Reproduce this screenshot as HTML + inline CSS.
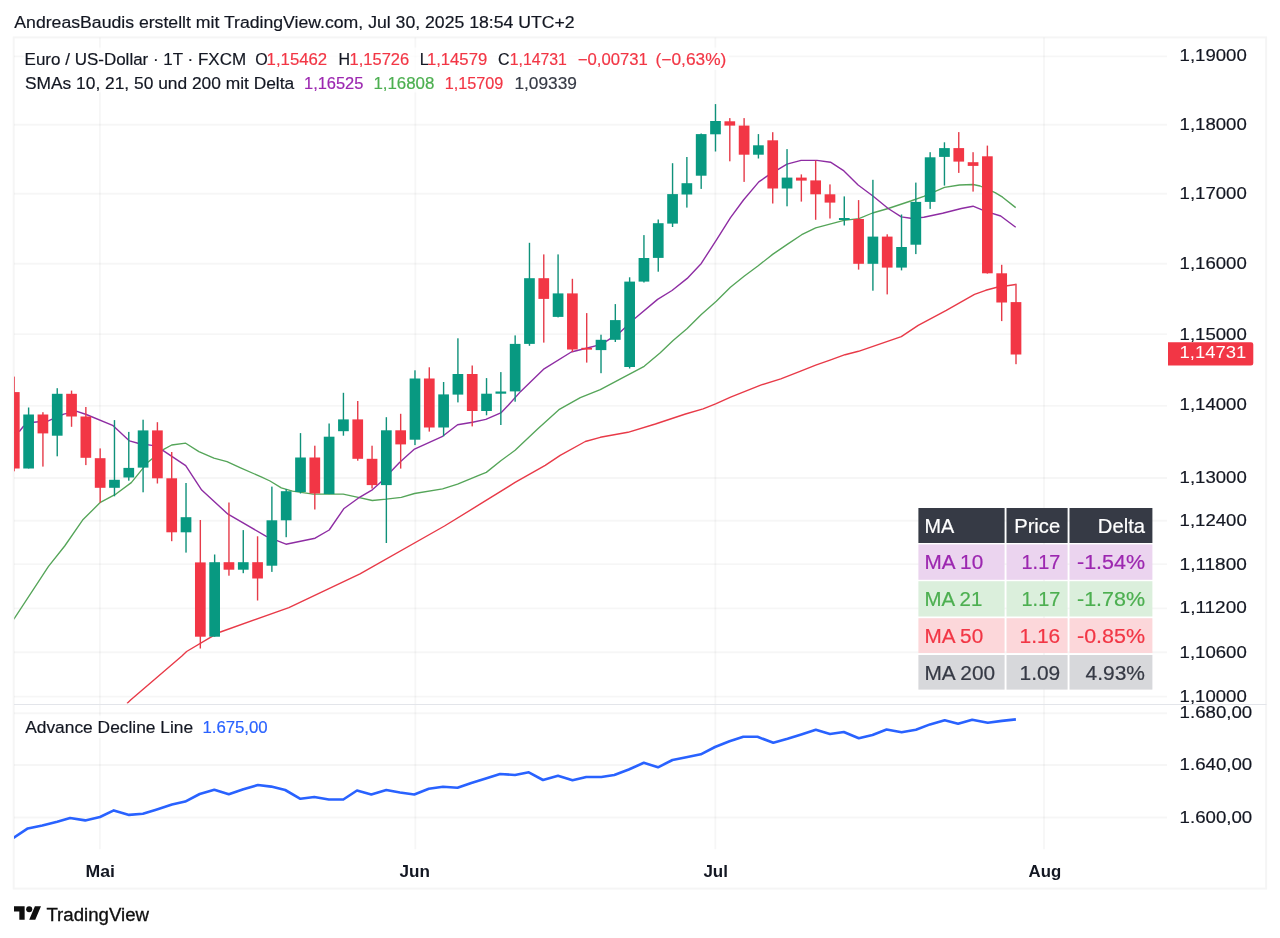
<!DOCTYPE html>
<html lang="de"><head><meta charset="utf-8"><title>EURUSD Chart</title>
<style>html,body{margin:0;padding:0;background:#fff}body{width:1280px;height:938px;overflow:hidden;position:relative;font-family:"Liberation Sans",sans-serif}svg{will-change:transform;position:absolute;left:0;top:0;display:block}svg text{font-family:"Liberation Sans",sans-serif}</style></head><body>
<svg width="1280" height="938" viewBox="0 0 1280 938">
<rect x="0" y="0" width="1280" height="938" fill="#ffffff"/>
<defs><clipPath id="cm"><rect x="14.2" y="37.5" width="1152" height="666"/></clipPath><clipPath id="cl"><rect x="14.0" y="705" width="1152" height="145"/></clipPath></defs>
<g stroke="#000000" stroke-opacity="0.036" stroke-width="1.9" fill="none"><line x1="14" y1="56.4" x2="1167" y2="56.4"/><line x1="14" y1="124.7" x2="1167" y2="124.7"/><line x1="14" y1="193.8" x2="1167" y2="193.8"/><line x1="14" y1="263.8" x2="1167" y2="263.8"/><line x1="14" y1="334.1" x2="1167" y2="334.1"/><line x1="14" y1="405.9" x2="1167" y2="405.9"/><line x1="14" y1="478.0" x2="1167" y2="478.0"/><line x1="14" y1="520.7" x2="1167" y2="520.7"/><line x1="14" y1="564.1" x2="1167" y2="564.1"/><line x1="14" y1="608.4" x2="1167" y2="608.4"/><line x1="14" y1="652.3" x2="1167" y2="652.3"/><line x1="14" y1="696.6" x2="1167" y2="696.6"/><line x1="14" y1="713.2" x2="1167" y2="713.2"/><line x1="14" y1="765" x2="1167" y2="765"/><line x1="14" y1="817.5" x2="1167" y2="817.5"/><line x1="99.9" y1="37.5" x2="99.9" y2="849.3"/><line x1="415.3" y1="37.5" x2="415.3" y2="849.3"/><line x1="715.3" y1="37.5" x2="715.3" y2="849.3"/><line x1="1044.0" y1="37.5" x2="1044.0" y2="849.3"/></g>
<rect x="13.7" y="37.4" width="1252.4" height="851.2" fill="none" stroke="#000000" stroke-opacity="0.04" stroke-width="2"/>
<line x1="14" y1="704.45" x2="1266.5" y2="704.45" stroke="#e3e5ea" stroke-width="1.1"/>
<g clip-path="url(#cm)">
<polyline points="127.0,703.5 130.6,700.0 181.9,656.0 186.6,651.5 210.0,637.6 220.4,632.0 288.9,607.6 360.0,573.8 444.5,526.0 480.0,504.2 515.1,482.4 545.2,465.3 560.2,455.3 585.3,441.5 600.3,437.3 627.9,432.3 655.4,424.0 685.5,414.0 703.1,408.9 715.6,403.9 730.6,397.2 760.7,385.1 780.8,378.9 800.0,371.4 815.7,365.1 830.0,360.1 845.0,354.7 858.5,351.3 901.3,336.6 918.2,325.4 946.3,310.4 974.5,294.4 985.7,290.3 997.0,287.3 1015.7,284.5" fill="none" stroke="#e83a48" stroke-width="1.4" stroke-linejoin="round" stroke-linecap="butt"/>
<polyline points="13.0,619.5 14.2,618.7 48.5,566.4 64.7,546.0 82.6,520.1 100.4,502.3 116.3,493.8 131.3,482.6 148.2,461.9 163.2,449.7 171.7,445.0 185.7,443.2 198.9,451.6 213.9,458.2 227.0,461.6 240.0,467.6 261.2,476.9 270.0,481.0 281.3,487.9 292.5,491.1 313.2,494.1 343.2,494.1 358.2,497.3 372.3,500.5 386.3,499.2 401.3,497.3 414.5,493.5 442.6,488.8 457.6,484.1 480.0,474.9 486.3,472.4 500.8,460.7 515.1,450.3 537.6,429.0 558.9,409.7 580.3,397.7 600.3,389.6 622.9,377.6 644.2,366.3 660.0,353.0 673.1,340.5 687.2,328.5 701.3,314.4 716.3,301.3 730.4,287.2 744.4,276.0 757.9,266.0 772.6,254.4 787.6,244.1 801.7,234.7 815.7,227.8 828.9,224.4 843.9,220.3 858.9,218.6 872.5,213.0 888.2,208.5 910.7,201.0 923.8,196.3 944.5,187.4 959.5,185.0 973.0,184.5 980.1,186.0 995.1,192.6 1002.6,197.2 1015.7,207.6" fill="none" stroke="#55a559" stroke-width="1.35" stroke-linejoin="round" stroke-linecap="butt"/>
<polyline points="13.0,433.0 19.7,431.0 23.5,426.3 33.8,422.2 48.8,420.7 63.8,414.1 76.9,411.3 86.3,414.5 112.6,425.3 129.5,440.9 138.8,443.5 152.0,445.4 163.2,450.7 185.7,465.7 201.7,490.1 228.0,514.2 266.3,536.3 286.0,544.2 315.1,538.2 329.2,530.0 343.7,508.8 358.2,498.2 372.3,489.8 380.7,482.3 399.5,462.6 414.5,449.1 442.6,436.3 457.6,424.7 472.6,422.2 485.8,419.4 500.8,412.9 508.5,405.0 520.7,391.4 544.1,368.8 571.3,352.0 586.3,348.2 601.4,344.4 620.1,332.3 635.1,318.2 657.6,299.4 672.0,290.5 687.2,278.4 701.3,263.4 716.8,239.3 730.5,217.7 743.5,200.0 758.8,181.9 768.2,175.4 787.0,164.1 801.1,160.4 817.0,160.4 830.5,162.2 843.2,170.3 858.1,185.0 873.2,196.3 888.2,208.5 901.3,216.9 910.7,218.3 923.8,217.3 942.6,213.2 961.3,208.5 973.0,206.2 985.7,211.3 1000.7,216.0 1015.7,227.3" fill="none" stroke="#8e2da3" stroke-width="1.4" stroke-linejoin="round" stroke-linecap="butt"/>
<rect x="13.60" y="376.6" width="1.4" height="94.7" fill="#e63b49"/>
<rect x="8.95" y="392.1" width="10.7" height="76.4" fill="#f23645"/>
<rect x="27.91" y="407.5" width="1.4" height="61.0" fill="#0f917a"/>
<rect x="23.26" y="414.5" width="10.7" height="54.0" fill="#089981"/>
<rect x="42.22" y="412.2" width="1.4" height="54.4" fill="#e63b49"/>
<rect x="37.57" y="414.5" width="10.7" height="18.9" fill="#f23645"/>
<rect x="56.53" y="388.2" width="1.4" height="68.1" fill="#0f917a"/>
<rect x="51.88" y="393.8" width="10.7" height="41.9" fill="#089981"/>
<rect x="70.84" y="390.6" width="1.4" height="36.2" fill="#e63b49"/>
<rect x="66.19" y="393.8" width="10.7" height="22.7" fill="#f23645"/>
<rect x="85.15" y="407.0" width="1.4" height="58.1" fill="#e63b49"/>
<rect x="80.50" y="416.5" width="10.7" height="41.3" fill="#f23645"/>
<rect x="99.46" y="448.4" width="1.4" height="54.2" fill="#e63b49"/>
<rect x="94.81" y="458.2" width="10.7" height="29.6" fill="#f23645"/>
<rect x="113.77" y="420.1" width="1.4" height="76.2" fill="#0f917a"/>
<rect x="109.12" y="479.8" width="10.7" height="8.0" fill="#089981"/>
<rect x="128.08" y="431.9" width="1.4" height="48.8" fill="#0f917a"/>
<rect x="123.43" y="467.9" width="10.7" height="9.6" fill="#089981"/>
<rect x="142.39" y="419.7" width="1.4" height="72.6" fill="#0f917a"/>
<rect x="137.74" y="430.4" width="10.7" height="37.2" fill="#089981"/>
<rect x="156.70" y="422.2" width="1.4" height="61.3" fill="#e63b49"/>
<rect x="152.05" y="430.4" width="10.7" height="47.9" fill="#f23645"/>
<rect x="171.01" y="452.0" width="1.4" height="89.2" fill="#e63b49"/>
<rect x="166.36" y="478.3" width="10.7" height="54.0" fill="#f23645"/>
<rect x="185.32" y="483.0" width="1.4" height="69.6" fill="#0f917a"/>
<rect x="180.67" y="517.2" width="10.7" height="15.1" fill="#089981"/>
<rect x="199.63" y="520.0" width="1.4" height="128.5" fill="#e63b49"/>
<rect x="194.98" y="562.4" width="10.7" height="74.3" fill="#f23645"/>
<rect x="213.94" y="554.5" width="1.4" height="82.2" fill="#0f917a"/>
<rect x="209.29" y="562.2" width="10.7" height="74.5" fill="#089981"/>
<rect x="228.25" y="502.5" width="1.4" height="73.2" fill="#e63b49"/>
<rect x="223.60" y="562.2" width="10.7" height="7.5" fill="#f23645"/>
<rect x="242.56" y="530.1" width="1.4" height="43.1" fill="#0f917a"/>
<rect x="237.91" y="562.2" width="10.7" height="7.5" fill="#089981"/>
<rect x="256.87" y="536.3" width="1.4" height="64.2" fill="#e63b49"/>
<rect x="252.22" y="562.2" width="10.7" height="16.3" fill="#f23645"/>
<rect x="271.18" y="486.6" width="1.4" height="85.3" fill="#0f917a"/>
<rect x="266.53" y="520.3" width="10.7" height="45.4" fill="#089981"/>
<rect x="285.49" y="489.0" width="1.4" height="48.2" fill="#0f917a"/>
<rect x="280.84" y="491.2" width="10.7" height="29.1" fill="#089981"/>
<rect x="299.80" y="433.1" width="1.4" height="60.4" fill="#0f917a"/>
<rect x="295.15" y="457.5" width="10.7" height="34.5" fill="#089981"/>
<rect x="314.11" y="445.7" width="1.4" height="63.8" fill="#e63b49"/>
<rect x="309.46" y="457.5" width="10.7" height="36.0" fill="#f23645"/>
<rect x="328.42" y="423.5" width="1.4" height="70.6" fill="#0f917a"/>
<rect x="323.77" y="436.7" width="10.7" height="57.4" fill="#089981"/>
<rect x="342.73" y="392.8" width="1.4" height="42.9" fill="#0f917a"/>
<rect x="338.08" y="419.4" width="10.7" height="11.8" fill="#089981"/>
<rect x="357.04" y="401.0" width="1.4" height="59.7" fill="#e63b49"/>
<rect x="352.39" y="419.4" width="10.7" height="39.4" fill="#f23645"/>
<rect x="371.35" y="445.7" width="1.4" height="42.8" fill="#e63b49"/>
<rect x="366.70" y="458.8" width="10.7" height="26.3" fill="#f23645"/>
<rect x="385.66" y="417.2" width="1.4" height="125.8" fill="#0f917a"/>
<rect x="381.01" y="430.3" width="10.7" height="54.8" fill="#089981"/>
<rect x="399.97" y="413.8" width="1.4" height="54.8" fill="#e63b49"/>
<rect x="395.32" y="430.3" width="10.7" height="14.1" fill="#f23645"/>
<rect x="414.28" y="370.3" width="1.4" height="74.8" fill="#0f917a"/>
<rect x="409.63" y="378.5" width="10.7" height="61.2" fill="#089981"/>
<rect x="428.59" y="367.3" width="1.4" height="64.3" fill="#e63b49"/>
<rect x="423.94" y="378.5" width="10.7" height="49.0" fill="#f23645"/>
<rect x="442.90" y="382.0" width="1.4" height="54.3" fill="#0f917a"/>
<rect x="438.25" y="394.4" width="10.7" height="33.1" fill="#089981"/>
<rect x="457.21" y="338.3" width="1.4" height="64.1" fill="#0f917a"/>
<rect x="452.56" y="374.0" width="10.7" height="20.6" fill="#089981"/>
<rect x="471.52" y="365.5" width="1.4" height="60.9" fill="#e63b49"/>
<rect x="466.87" y="374.0" width="10.7" height="37.0" fill="#f23645"/>
<rect x="485.83" y="378.1" width="1.4" height="37.2" fill="#0f917a"/>
<rect x="481.18" y="393.7" width="10.7" height="17.3" fill="#089981"/>
<rect x="500.14" y="372.1" width="1.4" height="52.9" fill="#0f917a"/>
<rect x="495.49" y="391.5" width="10.7" height="2.2" fill="#089981"/>
<rect x="514.45" y="335.4" width="1.4" height="66.3" fill="#0f917a"/>
<rect x="509.80" y="343.9" width="10.7" height="47.5" fill="#089981"/>
<rect x="528.76" y="242.8" width="1.4" height="103.0" fill="#0f917a"/>
<rect x="524.11" y="278.2" width="10.7" height="65.7" fill="#089981"/>
<rect x="543.07" y="254.4" width="1.4" height="88.2" fill="#e63b49"/>
<rect x="538.42" y="278.2" width="10.7" height="20.7" fill="#f23645"/>
<rect x="557.38" y="254.4" width="1.4" height="63.0" fill="#0f917a"/>
<rect x="552.73" y="293.4" width="10.7" height="23.5" fill="#089981"/>
<rect x="571.69" y="278.8" width="1.4" height="73.2" fill="#e63b49"/>
<rect x="567.04" y="293.4" width="10.7" height="56.1" fill="#f23645"/>
<rect x="586.00" y="313.1" width="1.4" height="49.5" fill="#e63b49"/>
<rect x="581.35" y="347.8" width="10.7" height="1.8" fill="#f23645"/>
<rect x="600.31" y="334.7" width="1.4" height="38.5" fill="#0f917a"/>
<rect x="595.66" y="339.8" width="10.7" height="10.3" fill="#089981"/>
<rect x="614.62" y="304.1" width="1.4" height="37.9" fill="#0f917a"/>
<rect x="609.97" y="320.1" width="10.7" height="19.7" fill="#089981"/>
<rect x="628.93" y="277.3" width="1.4" height="91.2" fill="#0f917a"/>
<rect x="624.28" y="281.6" width="10.7" height="85.4" fill="#089981"/>
<rect x="643.24" y="235.1" width="1.4" height="47.4" fill="#0f917a"/>
<rect x="638.59" y="258.0" width="10.7" height="23.6" fill="#089981"/>
<rect x="657.55" y="219.5" width="1.4" height="52.2" fill="#0f917a"/>
<rect x="652.90" y="223.2" width="10.7" height="34.7" fill="#089981"/>
<rect x="671.86" y="163.2" width="1.4" height="63.8" fill="#0f917a"/>
<rect x="667.21" y="194.1" width="10.7" height="29.5" fill="#089981"/>
<rect x="686.17" y="157.0" width="1.4" height="50.6" fill="#0f917a"/>
<rect x="681.52" y="183.2" width="10.7" height="11.3" fill="#089981"/>
<rect x="700.48" y="133.5" width="1.4" height="55.4" fill="#0f917a"/>
<rect x="695.83" y="134.1" width="10.7" height="41.6" fill="#089981"/>
<rect x="714.79" y="104.1" width="1.4" height="47.4" fill="#0f917a"/>
<rect x="710.14" y="121.0" width="10.7" height="13.3" fill="#089981"/>
<rect x="729.10" y="118.1" width="1.4" height="43.2" fill="#e63b49"/>
<rect x="724.45" y="121.3" width="10.7" height="4.3" fill="#f23645"/>
<rect x="743.41" y="118.1" width="1.4" height="63.8" fill="#e63b49"/>
<rect x="738.76" y="125.6" width="10.7" height="29.1" fill="#f23645"/>
<rect x="757.72" y="134.1" width="1.4" height="24.4" fill="#0f917a"/>
<rect x="753.07" y="145.3" width="10.7" height="9.4" fill="#089981"/>
<rect x="772.03" y="132.2" width="1.4" height="71.3" fill="#e63b49"/>
<rect x="767.38" y="140.3" width="10.7" height="48.2" fill="#f23645"/>
<rect x="786.34" y="149.1" width="1.4" height="57.2" fill="#0f917a"/>
<rect x="781.69" y="177.6" width="10.7" height="10.9" fill="#089981"/>
<rect x="800.65" y="174.4" width="1.4" height="27.2" fill="#e63b49"/>
<rect x="796.00" y="177.6" width="10.7" height="3.0" fill="#f23645"/>
<rect x="814.96" y="160.4" width="1.4" height="59.4" fill="#e63b49"/>
<rect x="810.31" y="180.4" width="10.7" height="13.9" fill="#f23645"/>
<rect x="829.27" y="184.4" width="1.4" height="34.1" fill="#e63b49"/>
<rect x="824.62" y="194.3" width="10.7" height="8.3" fill="#f23645"/>
<rect x="843.58" y="196.4" width="1.4" height="29.1" fill="#0f917a"/>
<rect x="838.93" y="218.0" width="10.7" height="2.0" fill="#089981"/>
<rect x="857.89" y="200.1" width="1.4" height="69.5" fill="#e63b49"/>
<rect x="853.24" y="219.0" width="10.7" height="44.8" fill="#f23645"/>
<rect x="872.20" y="179.8" width="1.4" height="110.9" fill="#0f917a"/>
<rect x="867.55" y="236.6" width="10.7" height="27.2" fill="#089981"/>
<rect x="886.51" y="234.3" width="1.4" height="60.1" fill="#e63b49"/>
<rect x="881.86" y="236.6" width="10.7" height="31.0" fill="#f23645"/>
<rect x="900.82" y="214.5" width="1.4" height="55.9" fill="#0f917a"/>
<rect x="896.17" y="247.0" width="10.7" height="20.6" fill="#089981"/>
<rect x="915.13" y="182.6" width="1.4" height="71.5" fill="#0f917a"/>
<rect x="910.48" y="201.9" width="10.7" height="42.8" fill="#089981"/>
<rect x="929.44" y="152.2" width="1.4" height="56.7" fill="#0f917a"/>
<rect x="924.79" y="157.3" width="10.7" height="44.6" fill="#089981"/>
<rect x="943.75" y="142.3" width="1.4" height="43.3" fill="#0f917a"/>
<rect x="939.10" y="148.1" width="10.7" height="8.8" fill="#089981"/>
<rect x="958.06" y="132.1" width="1.4" height="40.8" fill="#e63b49"/>
<rect x="953.41" y="148.1" width="10.7" height="13.5" fill="#f23645"/>
<rect x="972.37" y="152.2" width="1.4" height="39.4" fill="#e63b49"/>
<rect x="967.72" y="162.2" width="10.7" height="3.7" fill="#f23645"/>
<rect x="986.68" y="145.6" width="1.4" height="128.0" fill="#e63b49"/>
<rect x="982.03" y="156.3" width="10.7" height="117.0" fill="#f23645"/>
<rect x="1000.99" y="264.8" width="1.4" height="56.3" fill="#e63b49"/>
<rect x="996.34" y="273.3" width="10.7" height="29.2" fill="#f23645"/>
<rect x="1015.30" y="283.7" width="1.4" height="80.5" fill="#e63b49"/>
<rect x="1010.65" y="302.1" width="10.7" height="52.4" fill="#f23645"/>
</g>
<g clip-path="url(#cl)"><polyline points="13.0,838.2 13.8,837.6 27.8,828.4 42.3,825.4 57.2,821.7 70.1,818.0 85.2,820.4 100.0,817.0 113.8,810.4 129.1,814.9 142.9,813.8 156.1,809.8 172.0,804.6 185.2,801.6 199.7,794.0 214.3,789.7 228.8,794.2 243.4,789.2 257.9,785.0 271.2,786.6 285.2,790.0 300.4,798.8 314.3,797.0 328.8,799.5 343.3,799.5 357.0,790.5 371.3,794.5 386.3,790.0 400.0,792.5 414.3,794.5 428.8,788.8 443.0,786.8 457.5,787.8 471.3,783.0 485.8,778.5 500.0,774.0 515.0,775.0 528.8,772.3 543.0,780.0 558.0,775.8 572.5,780.3 586.3,777.0 601.3,777.0 614.3,775.0 628.8,769.5 643.8,762.8 658.0,767.3 672.5,760.0 686.3,757.3 700.8,754.3 715.0,747.0 729.5,741.3 743.3,736.8 757.5,736.8 773.3,742.8 787.5,738.8 801.3,734.5 815.8,729.8 830.0,734.0 843.8,732.0 858.8,738.3 872.5,735.0 886.6,729.5 901.6,732.2 915.9,729.7 930.0,724.4 944.7,720.3 958.1,723.8 972.2,719.7 987.8,722.8 1001.9,720.9 1015.9,719.4" fill="none" stroke="#2962ff" stroke-width="2.6" stroke-linejoin="round" stroke-linecap="butt"/></g>
<rect x="918.4" y="508.0" width="86.2" height="35.0" fill="#363a45"/>
<rect x="1006.5" y="508.0" width="61.1" height="35.0" fill="#363a45"/>
<rect x="1069.5" y="508.0" width="82.9" height="35.0" fill="#363a45"/>
<text x="924.4" y="532.5" font-size="19.3" fill="#ffffff" stroke="#ffffff" stroke-width="0.2" textLength="29.7" lengthAdjust="spacingAndGlyphs">MA</text>
<text x="1060.2" y="532.5" font-size="19.3" fill="#ffffff" stroke="#ffffff" stroke-width="0.2" text-anchor="end" textLength="46" lengthAdjust="spacingAndGlyphs">Price</text>
<text x="1145" y="532.5" font-size="19.3" fill="#ffffff" stroke="#ffffff" stroke-width="0.2" text-anchor="end" textLength="47.2" lengthAdjust="spacingAndGlyphs">Delta</text>
<rect x="918.4" y="544.4" width="86.2" height="35.4" fill="#ebd4ef"/>
<rect x="1006.5" y="544.4" width="61.1" height="35.4" fill="#ebd4ef"/>
<rect x="1069.5" y="544.4" width="82.9" height="35.4" fill="#ebd4ef"/>
<text x="924.4" y="568.9" font-size="19.3" fill="#9c27b0" stroke="#9c27b0" stroke-width="0.2" textLength="58.8" lengthAdjust="spacingAndGlyphs">MA 10</text>
<text x="1060.2" y="568.9" font-size="19.3" fill="#9c27b0" stroke="#9c27b0" stroke-width="0.2" text-anchor="end" textLength="38.6" lengthAdjust="spacingAndGlyphs">1.17</text>
<text x="1145" y="568.9" font-size="19.3" fill="#9c27b0" stroke="#9c27b0" stroke-width="0.2" text-anchor="end" textLength="68" lengthAdjust="spacingAndGlyphs">-1.54%</text>
<rect x="918.4" y="581.2" width="86.2" height="35.3" fill="#dbefdc"/>
<rect x="1006.5" y="581.2" width="61.1" height="35.3" fill="#dbefdc"/>
<rect x="1069.5" y="581.2" width="82.9" height="35.3" fill="#dbefdc"/>
<text x="924.4" y="605.7" font-size="19.3" fill="#4caf50" stroke="#4caf50" stroke-width="0.2" textLength="57.9" lengthAdjust="spacingAndGlyphs">MA 21</text>
<text x="1060.2" y="605.7" font-size="19.3" fill="#4caf50" stroke="#4caf50" stroke-width="0.2" text-anchor="end" textLength="38.6" lengthAdjust="spacingAndGlyphs">1.17</text>
<text x="1145" y="605.7" font-size="19.3" fill="#4caf50" stroke="#4caf50" stroke-width="0.2" text-anchor="end" textLength="68" lengthAdjust="spacingAndGlyphs">-1.78%</text>
<rect x="918.4" y="618.2" width="86.2" height="34.8" fill="#fcd7da"/>
<rect x="1006.5" y="618.2" width="61.1" height="34.8" fill="#fcd7da"/>
<rect x="1069.5" y="618.2" width="82.9" height="34.8" fill="#fcd7da"/>
<text x="924.4" y="642.7" font-size="19.3" fill="#f23645" stroke="#f23645" stroke-width="0.2" textLength="58.8" lengthAdjust="spacingAndGlyphs">MA 50</text>
<text x="1060.2" y="642.7" font-size="19.3" fill="#f23645" stroke="#f23645" stroke-width="0.2" text-anchor="end" textLength="40.7" lengthAdjust="spacingAndGlyphs">1.16</text>
<text x="1145" y="642.7" font-size="19.3" fill="#f23645" stroke="#f23645" stroke-width="0.2" text-anchor="end" textLength="68" lengthAdjust="spacingAndGlyphs">-0.85%</text>
<rect x="918.4" y="655.0" width="86.2" height="34.6" fill="#d7d8db"/>
<rect x="1006.5" y="655.0" width="61.1" height="34.6" fill="#d7d8db"/>
<rect x="1069.5" y="655.0" width="82.9" height="34.6" fill="#d7d8db"/>
<text x="924.4" y="679.5" font-size="19.3" fill="#363a45" stroke="#363a45" stroke-width="0.2" textLength="70.7" lengthAdjust="spacingAndGlyphs">MA 200</text>
<text x="1060.2" y="679.5" font-size="19.3" fill="#363a45" stroke="#363a45" stroke-width="0.2" text-anchor="end" textLength="40.7" lengthAdjust="spacingAndGlyphs">1.09</text>
<text x="1145" y="679.5" font-size="19.3" fill="#363a45" stroke="#363a45" stroke-width="0.2" text-anchor="end" textLength="59.4" lengthAdjust="spacingAndGlyphs">4.93%</text>
<text x="1179.6" y="60.7" font-size="16.3" fill="#131722" textLength="67.2" lengthAdjust="spacingAndGlyphs" stroke="#131722" stroke-width="0.18">1,19000</text>
<text x="1179.6" y="129.6" font-size="16.3" fill="#131722" textLength="67.2" lengthAdjust="spacingAndGlyphs" stroke="#131722" stroke-width="0.18">1,18000</text>
<text x="1179.6" y="199.1" font-size="16.3" fill="#131722" textLength="67.2" lengthAdjust="spacingAndGlyphs" stroke="#131722" stroke-width="0.18">1,17000</text>
<text x="1179.6" y="269.1" font-size="16.3" fill="#131722" textLength="67.2" lengthAdjust="spacingAndGlyphs" stroke="#131722" stroke-width="0.18">1,16000</text>
<text x="1179.6" y="340.0" font-size="16.3" fill="#131722" textLength="67.2" lengthAdjust="spacingAndGlyphs" stroke="#131722" stroke-width="0.18">1,15000</text>
<text x="1179.6" y="410.2" font-size="16.3" fill="#131722" textLength="67.2" lengthAdjust="spacingAndGlyphs" stroke="#131722" stroke-width="0.18">1,14000</text>
<text x="1179.6" y="482.5" font-size="16.3" fill="#131722" textLength="67.2" lengthAdjust="spacingAndGlyphs" stroke="#131722" stroke-width="0.18">1,13000</text>
<text x="1179.6" y="526.2" font-size="16.3" fill="#131722" textLength="67.2" lengthAdjust="spacingAndGlyphs" stroke="#131722" stroke-width="0.18">1,12400</text>
<text x="1179.6" y="569.8" font-size="16.3" fill="#131722" textLength="67.2" lengthAdjust="spacingAndGlyphs" stroke="#131722" stroke-width="0.18">1,11800</text>
<text x="1179.6" y="613.2" font-size="16.3" fill="#131722" textLength="67.2" lengthAdjust="spacingAndGlyphs" stroke="#131722" stroke-width="0.18">1,11200</text>
<text x="1179.6" y="657.9" font-size="16.3" fill="#131722" textLength="67.2" lengthAdjust="spacingAndGlyphs" stroke="#131722" stroke-width="0.18">1,10600</text>
<text x="1179.6" y="702.0" font-size="16.3" fill="#131722" textLength="67.2" lengthAdjust="spacingAndGlyphs" stroke="#131722" stroke-width="0.18">1,10000</text>
<text x="1179.6" y="718.3" font-size="16.3" fill="#131722" textLength="72.6" lengthAdjust="spacingAndGlyphs" stroke="#131722" stroke-width="0.18">1.680,00</text>
<text x="1179.6" y="770.2" font-size="16.3" fill="#131722" textLength="72.6" lengthAdjust="spacingAndGlyphs" stroke="#131722" stroke-width="0.18">1.640,00</text>
<text x="1179.6" y="823.0" font-size="16.3" fill="#131722" textLength="72.6" lengthAdjust="spacingAndGlyphs" stroke="#131722" stroke-width="0.18">1.600,00</text>
<path d="M1168 342.2H1251a2.3 2.3 0 0 1 2.3 2.3V363.2a2.3 2.3 0 0 1 -2.3 2.3H1168Z" fill="#f23645"/>
<text x="1179.6" y="358.1" font-size="16.3" fill="#ffffff" textLength="66.8" lengthAdjust="spacingAndGlyphs" stroke="#ffffff" stroke-width="0.0">1,14731</text>
<g fill="#ffffff" fill-opacity="0.72"><rect x="24" y="47.5" width="705" height="22.5"/><rect x="24" y="70" width="556" height="22.5"/><rect x="24" y="715.5" width="246" height="22.5"/></g>
<text x="14.3" y="28.1" font-size="16" fill="#131722" textLength="560.4" lengthAdjust="spacingAndGlyphs" stroke="#131722" stroke-width="0.18">AndreasBaudis erstellt mit TradingView.com, Jul 30, 2025 18:54 UTC+2</text>
<text x="24.6" y="65.1" font-size="16.3" fill="#131722" textLength="221.5" lengthAdjust="spacingAndGlyphs" stroke="#131722" stroke-width="0.18">Euro / US-Dollar · 1T · FXCM</text>
<text x="255.3" y="65.1" font-size="16" fill="#131722" stroke="#131722" stroke-width="0.18">O</text>
<text x="266.6" y="65.1" font-size="16" fill="#f23645" textLength="60.6" lengthAdjust="spacingAndGlyphs" stroke="#f23645" stroke-width="0.18">1,15462</text>
<text x="338.4" y="65.1" font-size="16" fill="#131722" stroke="#131722" stroke-width="0.18">H</text>
<text x="349.6" y="65.1" font-size="16" fill="#f23645" textLength="59.6" lengthAdjust="spacingAndGlyphs" stroke="#f23645" stroke-width="0.18">1,15726</text>
<text x="419.7" y="65.1" font-size="16" fill="#131722" stroke="#131722" stroke-width="0.18">L</text>
<text x="426.9" y="65.1" font-size="16" fill="#f23645" textLength="60.3" lengthAdjust="spacingAndGlyphs" stroke="#f23645" stroke-width="0.18">1,14579</text>
<text x="498.1" y="65.1" font-size="16" fill="#131722" stroke="#131722" stroke-width="0.18">C</text>
<text x="509.7" y="65.1" font-size="16" fill="#f23645" textLength="57.2" lengthAdjust="spacingAndGlyphs" stroke="#f23645" stroke-width="0.18">1,14731</text>
<text x="577.8" y="65.1" font-size="16" fill="#f23645" textLength="70" lengthAdjust="spacingAndGlyphs" stroke="#f23645" stroke-width="0.18">−0,00731</text>
<text x="655.6" y="65.1" font-size="16" fill="#f23645" textLength="70.7" lengthAdjust="spacingAndGlyphs" stroke="#f23645" stroke-width="0.18">(−0,63%)</text>
<text x="25.0" y="89" font-size="16.3" fill="#131722" textLength="269.2" lengthAdjust="spacingAndGlyphs" stroke="#131722" stroke-width="0.18">SMAs 10, 21, 50 und 200 mit Delta</text>
<text x="304" y="89" font-size="16" fill="#9c27b0" textLength="59.4" lengthAdjust="spacingAndGlyphs" stroke="#9c27b0" stroke-width="0.18">1,16525</text>
<text x="373.4" y="89" font-size="16" fill="#4caf50" textLength="61" lengthAdjust="spacingAndGlyphs" stroke="#4caf50" stroke-width="0.18">1,16808</text>
<text x="444.7" y="89" font-size="16" fill="#f23645" textLength="58.7" lengthAdjust="spacingAndGlyphs" stroke="#f23645" stroke-width="0.18">1,15709</text>
<text x="514.4" y="89" font-size="16" fill="#363a45" textLength="62.5" lengthAdjust="spacingAndGlyphs" stroke="#363a45" stroke-width="0.18">1,09339</text>
<text x="25.2" y="732.9" font-size="16.3" fill="#131722" textLength="168" lengthAdjust="spacingAndGlyphs" stroke="#131722" stroke-width="0.18">Advance Decline Line</text>
<text x="202.4" y="732.9" font-size="16" fill="#2962ff" textLength="65.3" lengthAdjust="spacingAndGlyphs" stroke="#2962ff" stroke-width="0.18">1.675,00</text>
<text x="85.6" y="877" font-size="16" fill="#131722" textLength="29.4" lengthAdjust="spacingAndGlyphs" font-weight="bold">Mai</text>
<text x="399.6" y="877" font-size="16" fill="#131722" textLength="30.4" lengthAdjust="spacingAndGlyphs" font-weight="bold">Jun</text>
<text x="703.4" y="877" font-size="16" fill="#131722" textLength="24.5" lengthAdjust="spacingAndGlyphs" font-weight="bold">Jul</text>
<text x="1028.6" y="877" font-size="16" fill="#131722" textLength="32.6" lengthAdjust="spacingAndGlyphs" font-weight="bold">Aug</text>
<g fill="#0f0f0f" transform="translate(14,903.1) scale(0.76)"><path d="M14 22H7V11H0V4h14v18zM28 22h-8l7.5-18h8L28 22z"/><circle cx="20" cy="8" r="4"/></g>
<text x="46.4" y="920.6" font-size="17.6" fill="#0f0f0f" stroke="#0f0f0f" stroke-width="0.3" textLength="102.6" lengthAdjust="spacingAndGlyphs">TradingView</text>
</svg></body></html>
